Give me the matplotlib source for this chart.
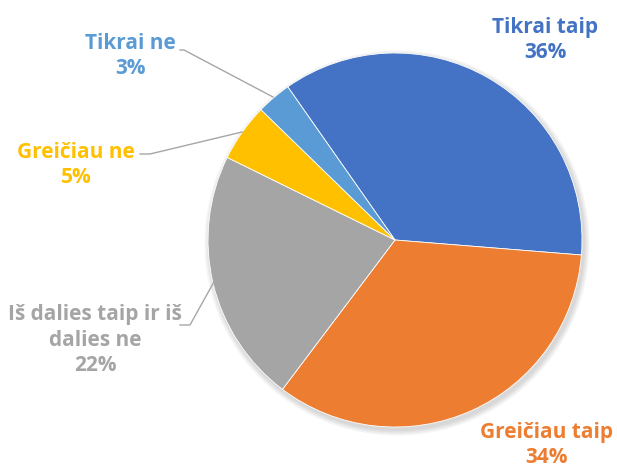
import matplotlib.pyplot as plt
from matplotlib.patches import Circle

labels = ['Tikrai taip', 'Greičiau taip', 'Iš dalies taip ir iš\ndalies ne', 'Greičiau ne', 'Tikrai ne']
values = [36, 34, 22, 5, 3]
colors = ['#4472C4', '#ED7D31', '#A5A5A5', '#FFC000', '#5B9BD5']

W, H = 617, 473
fig = plt.figure(figsize=(W / 100, H / 100), dpi=100)
ax = fig.add_axes([0, 0, 1, 1])

cx, cy, r = 395, H - 240, 187

# soft shadow
for i in range(4):
    ax.add_patch(Circle((cx + 2, cy - 3), r + 1 + i * 1.5, color='black', alpha=0.04, lw=0, zorder=0))

ax.pie(values, colors=colors, startangle=125, counterclock=False,
       center=(cx, cy), radius=r, frame=True,
       wedgeprops=dict(linewidth=0.6, edgecolor='white'))
ax.set_xlim(0, W)
ax.set_ylim(0, H)
ax.set_aspect('equal')
ax.axis('off')

font = dict(family='Open Sans', fontweight='bold', fontsize=15, ha='center', va='center',
            linespacing=1.28)

# label positions in pixel coords (top-left origin)
pos = [(545, 40), (547, 445), (95, 340), (76, 165), (130, 56)]
for lab, v, c, (x, y) in zip(labels, values, colors, pos):
    ax.text(x, H - y, f'{lab}\n{v}%', color=c, **font)

# leader lines
lines = [
    [(180, 50), (184, 50), (273, 97)],
    [(140, 154), (150, 154), (242, 132)],
    [(180, 325), (190, 325), (215, 280)],
]
for pts in lines:
    xs = [p[0] for p in pts]
    ys = [H - p[1] for p in pts]
    ax.plot(xs, ys, color='#A6A6A6', lw=1.0, zorder=3)

fig.savefig('out.png', dpi=100, facecolor='white')
